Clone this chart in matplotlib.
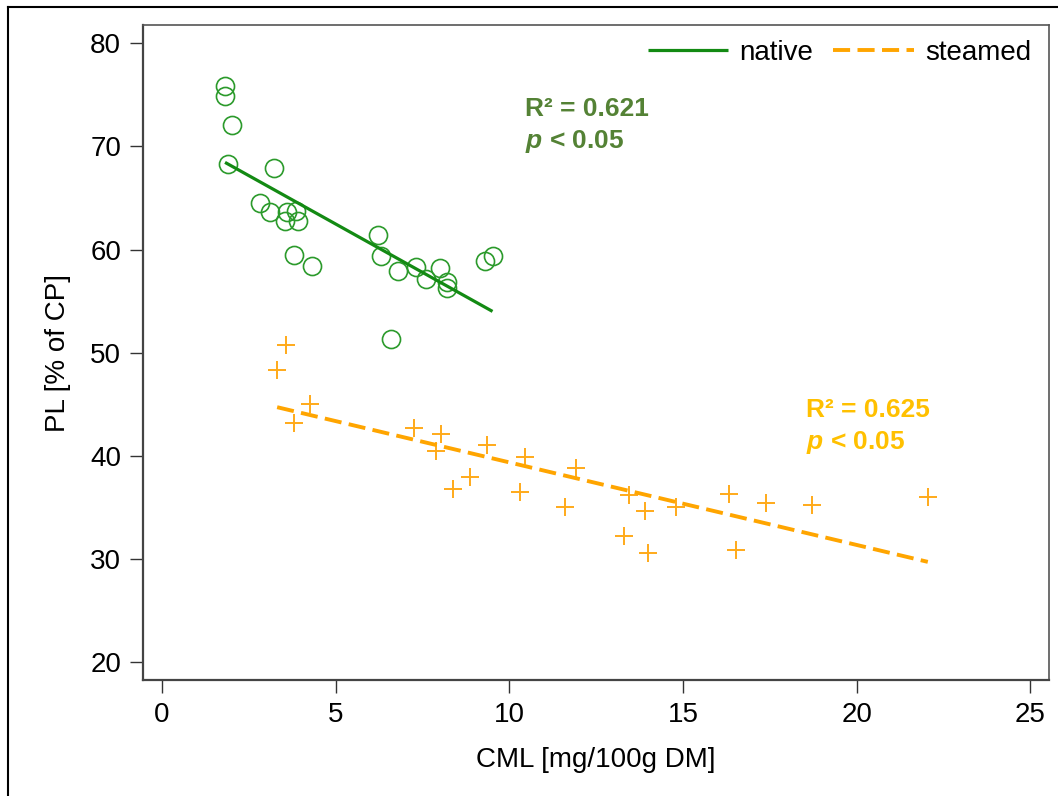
import matplotlib
matplotlib.use('Agg')
import matplotlib.pyplot as plt
from matplotlib.lines import Line2D
import numpy as np

# --- data ---

# native samples (green circles)
native_cml = [1.82, 1.82, 2.03, 1.91, 3.22, 2.82, 3.11, 3.54, 3.61, 3.85, 3.92, 3.81,
              4.31, 6.22, 6.30, 6.81, 7.33, 7.61, 8.01, 8.21, 8.21, 9.31, 9.52, 6.60]
native_pl = [75.9, 74.9, 72.1, 68.3, 67.9, 64.5, 63.6, 62.8, 63.6, 63.7, 62.8, 59.5,
             58.4, 61.4, 59.4, 57.9, 58.3, 57.1, 58.2, 56.9, 56.3, 58.9, 59.4, 51.3]

# steamed samples (orange crosses)
steamed_cml = [3.57, 3.32, 4.28, 3.80, 7.26, 8.04, 7.88, 9.36, 8.86, 8.38, 10.46, 10.30,
               11.93, 11.60, 13.46, 13.30, 13.92, 14.81, 13.99, 16.34, 17.38, 18.73,
               16.52, 22.05]
steamed_pl = [50.7, 48.3, 45.0, 43.2, 42.7, 42.1, 40.5, 41.0, 37.9, 36.8, 39.9, 36.5,
              38.8, 35.0, 36.2, 32.2, 34.6, 35.0, 30.6, 36.3, 35.4, 35.2, 30.9, 36.0]

# regression lines (intercept, slope) as shown in the figure
native_fit = (71.87, -1.877)
steamed_fit = (47.37, -0.801)

native_stats = ['R² = 0.621', r'$\mathbfit{p}$ < 0.05']
steamed_stats = ['R² = 0.625', r'$\mathbfit{p}$ < 0.05']

x_ticks = [0, 5, 10, 15, 20, 25]
y_ticks = [20, 30, 40, 50, 60, 70, 80]

# --- style ---
plt.rcParams['font.family'] = ['Liberation Sans', 'DejaVu Sans']
plt.rcParams['mathtext.fontset'] = 'custom'
plt.rcParams['mathtext.bfit'] = 'Liberation Sans:italic:bold'
plt.rcParams['mathtext.rm'] = 'Liberation Sans:bold'

GREEN_PT = '#2b9a2b'
GREEN_LN = '#138a13'
GREEN_TXT = '#548235'
ORANGE_PT = '#ffaa1a'
ORANGE_LN = '#ffa500'
ORANGE_TXT = '#ffc000'

fig = plt.figure(figsize=(10.58, 7.96), dpi=100)
ax = fig.add_axes([142.7 / 1058, 1 - 680 / 796, (1048.7 - 142.7) / 1058, (680 - 25.3) / 796])

# points
ax.plot(native_cml, native_pl, linestyle='none', marker='o', markersize=13,
        markerfacecolor='none', markeredgecolor=GREEN_PT, markeredgewidth=1.2)
ax.plot(steamed_cml, steamed_pl, linestyle='none', marker='+', markersize=13.5,
        color=ORANGE_PT, markeredgewidth=1.4)

# fit lines over the data range
xn = np.array([min(native_cml), max(native_cml)])
ln_native, = ax.plot(xn, native_fit[0] + native_fit[1] * xn, color=GREEN_LN, lw=2.3,
                     solid_capstyle='butt')
xs = np.array([min(steamed_cml), max(steamed_cml)])
ln_steamed, = ax.plot(xs, steamed_fit[0] + steamed_fit[1] * xs, color=ORANGE_LN, lw=2.8,
                      dashes=(4.4, 1.9))

# annotations
ax.text(10.45, 74.8, native_stats[0] + '\n' + native_stats[1], color=GREEN_TXT,
        fontsize=19, fontweight='bold', va='top', ha='left', linespacing=1.35)
ax.text(18.55, 45.6, steamed_stats[0] + '\n' + steamed_stats[1], color=ORANGE_TXT,
        fontsize=19, fontweight='bold', va='top', ha='left', linespacing=1.35)

ax.legend([ln_native, ln_steamed], ['native', 'steamed'], loc='upper right',
          bbox_to_anchor=(1 - 8 / 906, 1 - 5 / 655),
          frameon=False, ncol=2, fontsize=20, handlelength=2.9, handletextpad=0.4,
          columnspacing=0.72, borderaxespad=0.2, borderpad=0.15)

ax.set_xlim(-0.55, 25.53)
ax.set_ylim(18.25, 81.75)
ax.set_xticks(x_ticks)
ax.set_yticks(y_ticks)
ax.tick_params(axis='both', direction='out', length=9.5, width=1.0, labelsize=20,
               color='#333333', pad=6)
ax.set_xlabel('CML [mg/100g DM]', fontsize=20, labelpad=14)
ax.set_ylabel('PL [% of CP]', fontsize=20, labelpad=14)
for side in ['left', 'bottom']:
    ax.spines[side].set_linewidth(1.6)
    ax.spines[side].set_color('#444444')
for side in ['top', 'right']:
    ax.spines[side].set_linewidth(1.2)
    ax.spines[side].set_color('#555555')

# outer frame of the figure (left and top edges visible)
fig.add_artist(Line2D([8 / 1058, 8 / 1058], [0, 1 - 7 / 796], transform=fig.transFigure,
                      color='black', lw=1.5))
fig.add_artist(Line2D([8 / 1058, 1], [1 - 7 / 796, 1 - 7 / 796], transform=fig.transFigure,
                      color='black', lw=1.5))

fig.savefig('out.png', dpi=100)
